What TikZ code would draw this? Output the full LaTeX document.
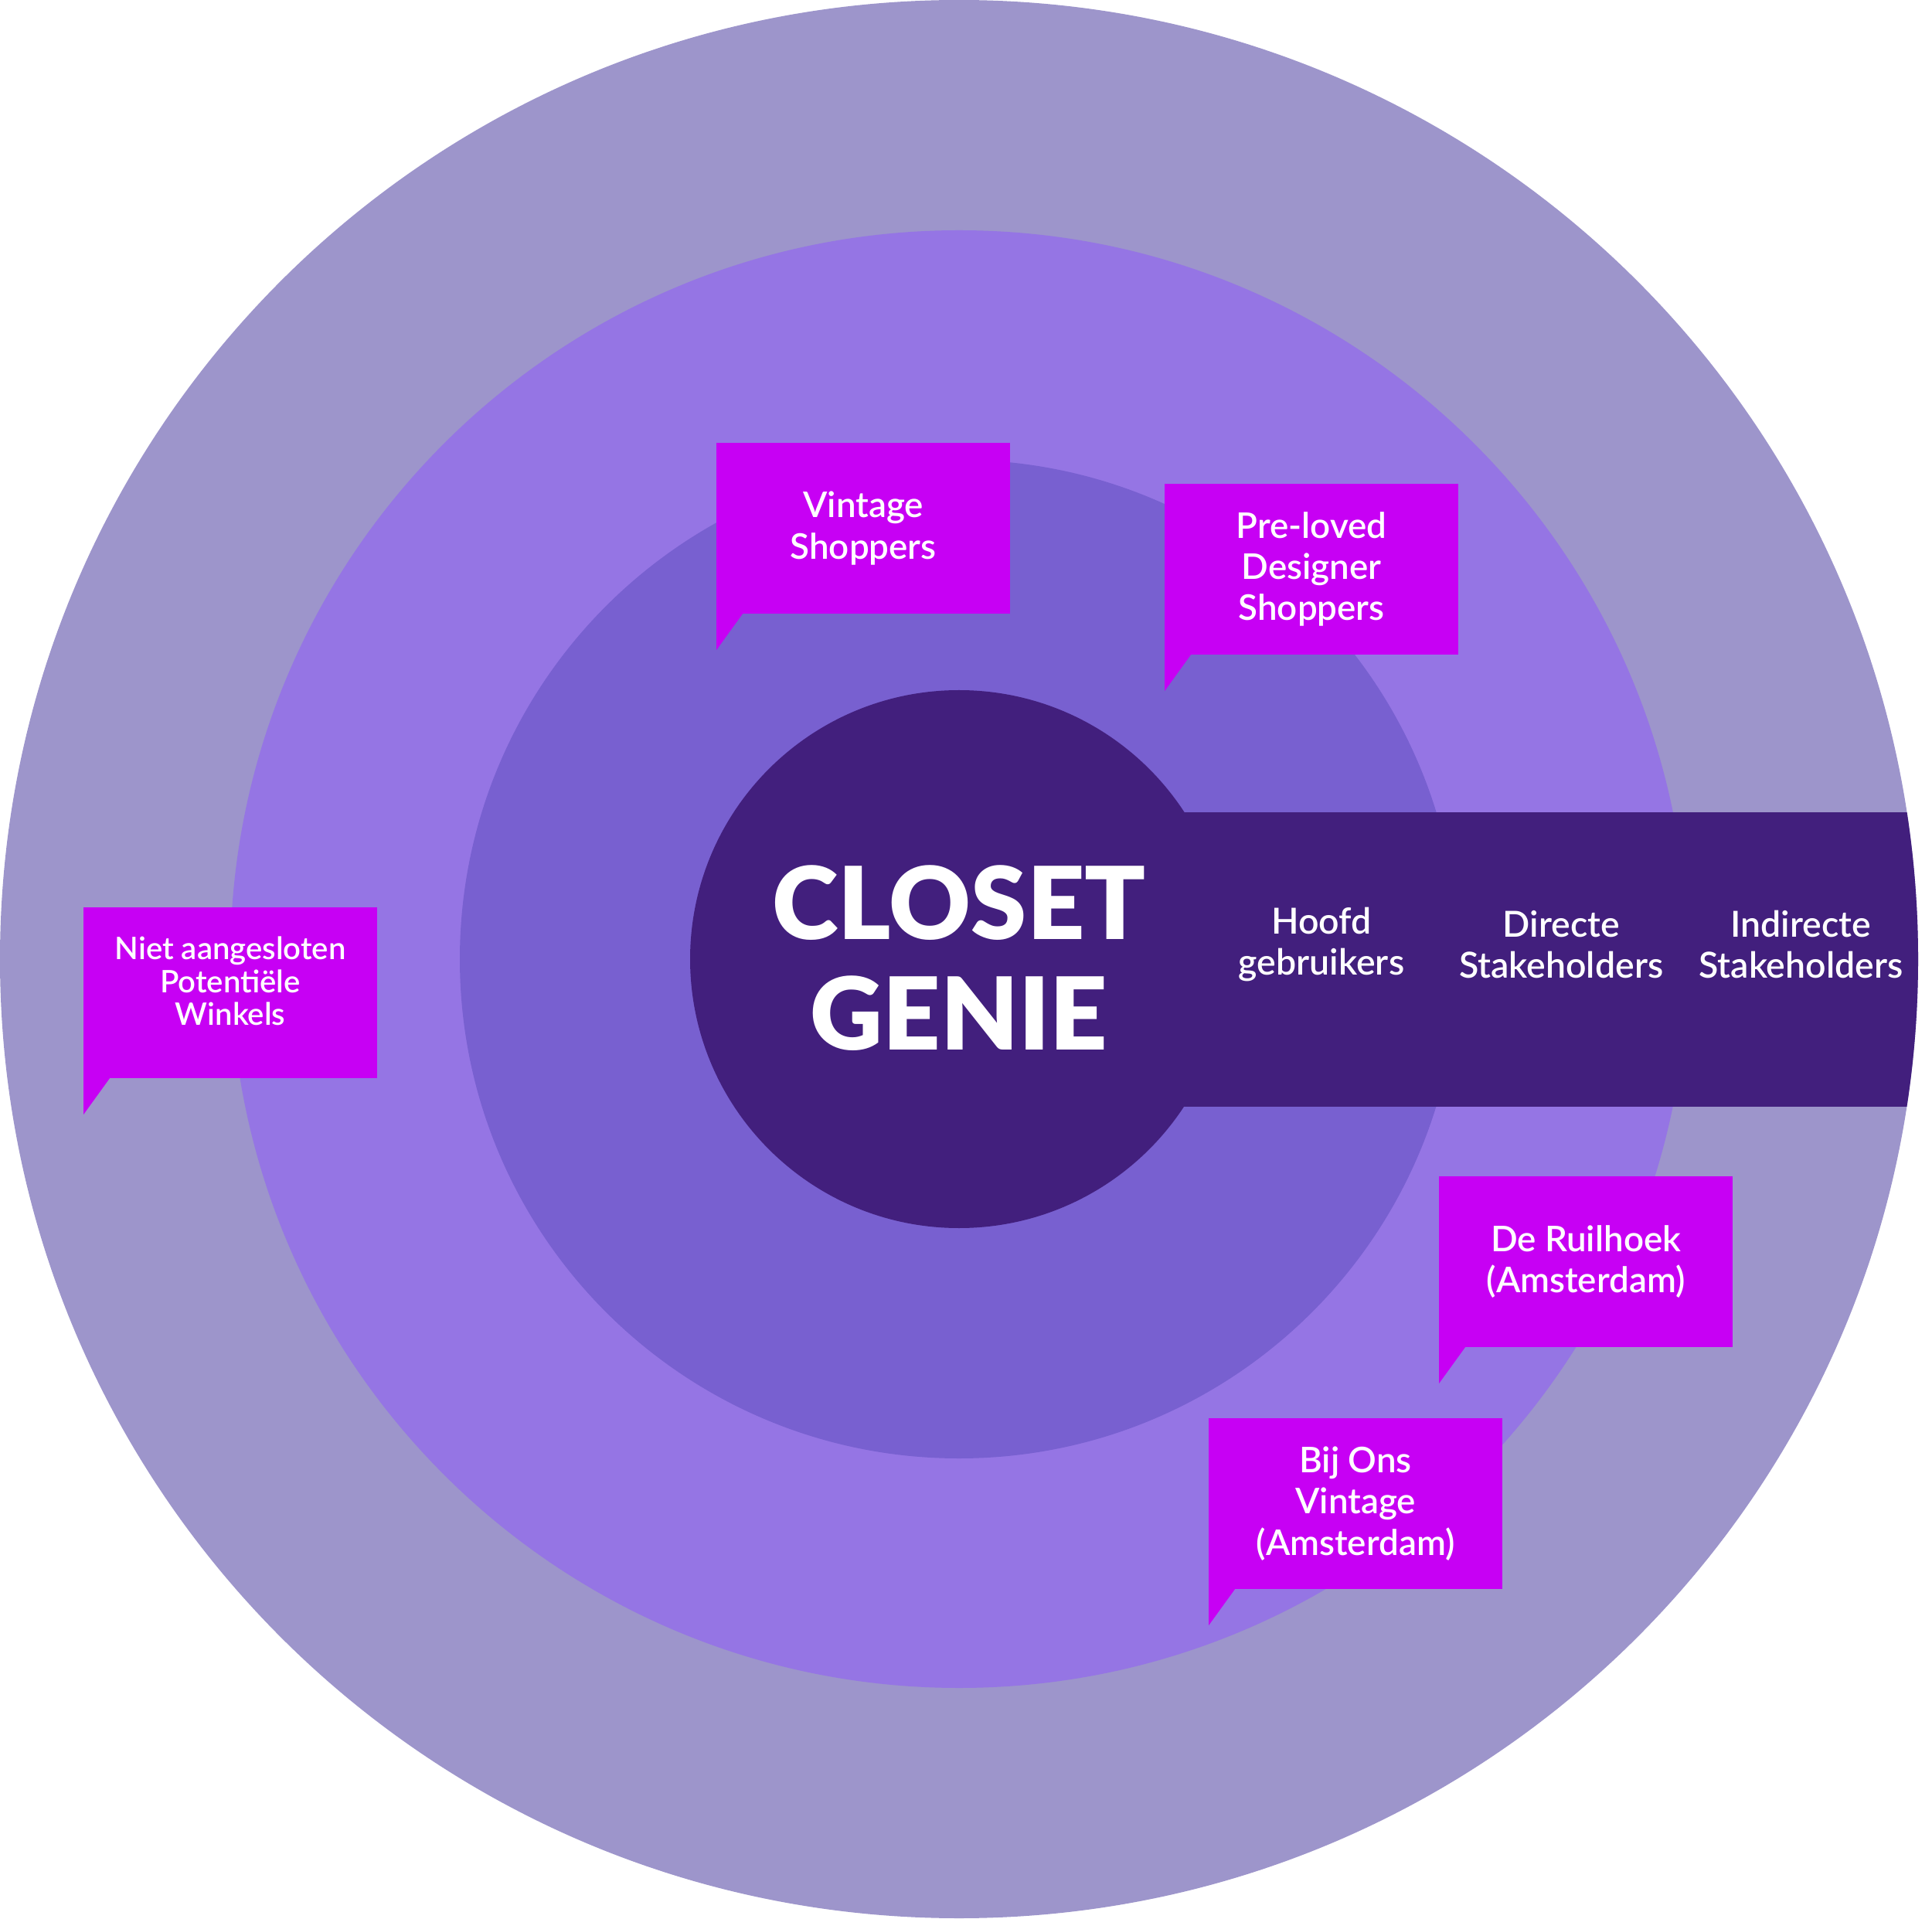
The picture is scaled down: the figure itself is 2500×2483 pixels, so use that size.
\documentclass[tikz,border=0pt]{standalone}
\usepackage{fontspec}
\setmainfont{Lato}
\newfontfamily\heavyfont{Lato Black}
\newfontfamily\midfont{Lato Semibold}
\usetikzlibrary{positioning}

\definecolor{ringouter}{HTML}{9D95CB}
\definecolor{ringmid}{HTML}{9575E4}
\definecolor{ringinner}{HTML}{7860D0}
\definecolor{core}{HTML}{421F7D}
\definecolor{bubblepink}{HTML}{C700F4}

\begin{document}
\begin{tikzpicture}[x=0.01cm,y=-0.01cm,node distance=3.1cm,
  bubble/.style={fill=bubblepink,text=white,minimum width=3.8cm,minimum height=2.21cm,
    inner sep=0pt,outer sep=0pt,align=center,anchor=north west,
    font=\midfont\fontsize{13}{15.1}\selectfont},
  barlabel/.style={text=white,align=center,font=\midfont\fontsize{13.2}{15.1}\selectfont}]
\useasboundingbox (0,0) rectangle (2500,2483);

% the rings
  \fill[ringouter] (1241,1241) circle (1241);
  \fill[ringmid]   (1241,1241) circle (943);
  \fill[ringinner] (1241,1241) circle (646);

% core and the bar to the right
  \begin{scope}
    \clip (1241,1241) circle (1241);
    \fill[core] (1241,1051) rectangle (2500,1432);
  \end{scope}
  \fill[core] (1241,1241) circle (348);
  \node[text=white,align=center,font=\heavyfont\fontsize{37}{40.7}\selectfont]
    (genie) at (1241,1240) {CLOSET\\GENIE};

% ring names
  \node[barlabel] (hoofd) at (1710,1222) {Hoofd\\gebruikers};
  \node[barlabel] (direct) [right of=hoofd] {Directe\\Stakeholders};
  \node[barlabel] (indirect) [right of=direct] {Indirecte\\Stakeholders};

% the speech bubbles
  \node[bubble] (vintage) at (927,573) {Vintage\\Shoppers};
  \node[bubble] (preloved) at (1507,626) {Pre-loved\\Designer\\Shoppers};
  \node[bubble,font=\midfont\fontsize{11.4}{12.1}\selectfont] (niet) at (108,1174)
    {Niet aangesloten\\Potentiële\\Winkels\\[-3.5pt]\mbox{}};
  \node[bubble] (ruilhoek) at (1862,1522) {De Ruilhoek\\(Amsterdam)};
  \node[bubble] (bijons) at (1564,1835) {Bij Ons\\Vintage\\(Amsterdam)};

  \foreach \b in {vintage,preloved,niet,ruilhoek,bijons}
    \fill[bubblepink] (\b.south west) -- ++(0,47) -- ++(34,-47) -- cycle;

\end{tikzpicture}
\end{document}
